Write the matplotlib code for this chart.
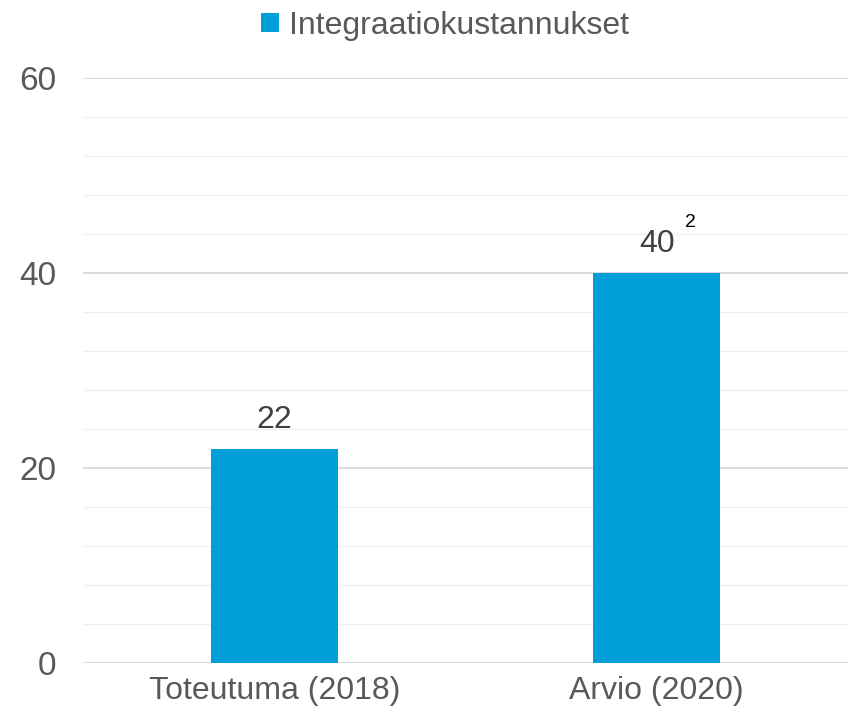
import matplotlib.pyplot as plt
from matplotlib.ticker import MultipleLocator

plt.rcParams['font.family'] = ['Liberation Sans', 'DejaVu Sans']

categories = ['Toteutuma (2018)', 'Arvio (2020)']
values = [22, 40]
series_name = 'Integraatiokustannukset'
footnotes = ['', '2']

bar_color = '#009fda'
text_color = '#595959'
label_color = '#404040'

fig = plt.figure(figsize=(8.59, 7.21), dpi=100)
ax = fig.add_axes([83 / 859, 1 - 663 / 721, 765 / 859, (663 - 78) / 721])

x = list(range(len(categories)))
bars = ax.bar(x, values, width=0.333, color=bar_color, label=series_name, zorder=3)

ax.set_xlim(-0.5, 1.5)
ax.set_ylim(0, 60)
ax.yaxis.set_major_locator(MultipleLocator(20))
ax.yaxis.set_minor_locator(MultipleLocator(4))
ax.grid(which='major', axis='y', color='#d9d9d9', linewidth=1.3, zorder=0)
ax.grid(which='minor', axis='y', color='#f0f0f0', linewidth=1.0, zorder=0)
ax.tick_params(axis='y', which='both', length=0, labelsize=24, labelcolor=text_color, pad=19)
ax.tick_params(axis='x', length=0, labelsize=23, labelcolor=text_color, pad=9)
ax.set_xticks(x)
ax.set_xticklabels(categories)
for s in ax.spines.values():
    s.set_visible(False)

for bar, v, fn in zip(bars, values, footnotes):
    cx = bar.get_x() + bar.get_width() / 2
    ax.annotate(str(v), (cx, v), xytext=(0, 10), textcoords='offset points',
                ha='center', va='bottom', fontsize=23, color=label_color)
    if fn:
        ax.annotate(fn, (cx, v), xytext=(20, 30), textcoords='offset points',
                    ha='left', va='bottom', fontsize=14, color='black')

fig.legend(loc='upper center', bbox_to_anchor=(0.518, 1.025), frameon=False,
           fontsize=23, labelcolor=text_color, handlelength=0.55, handleheight=0.55,
           handletextpad=0.3)

fig.savefig('out.png', dpi=100)
